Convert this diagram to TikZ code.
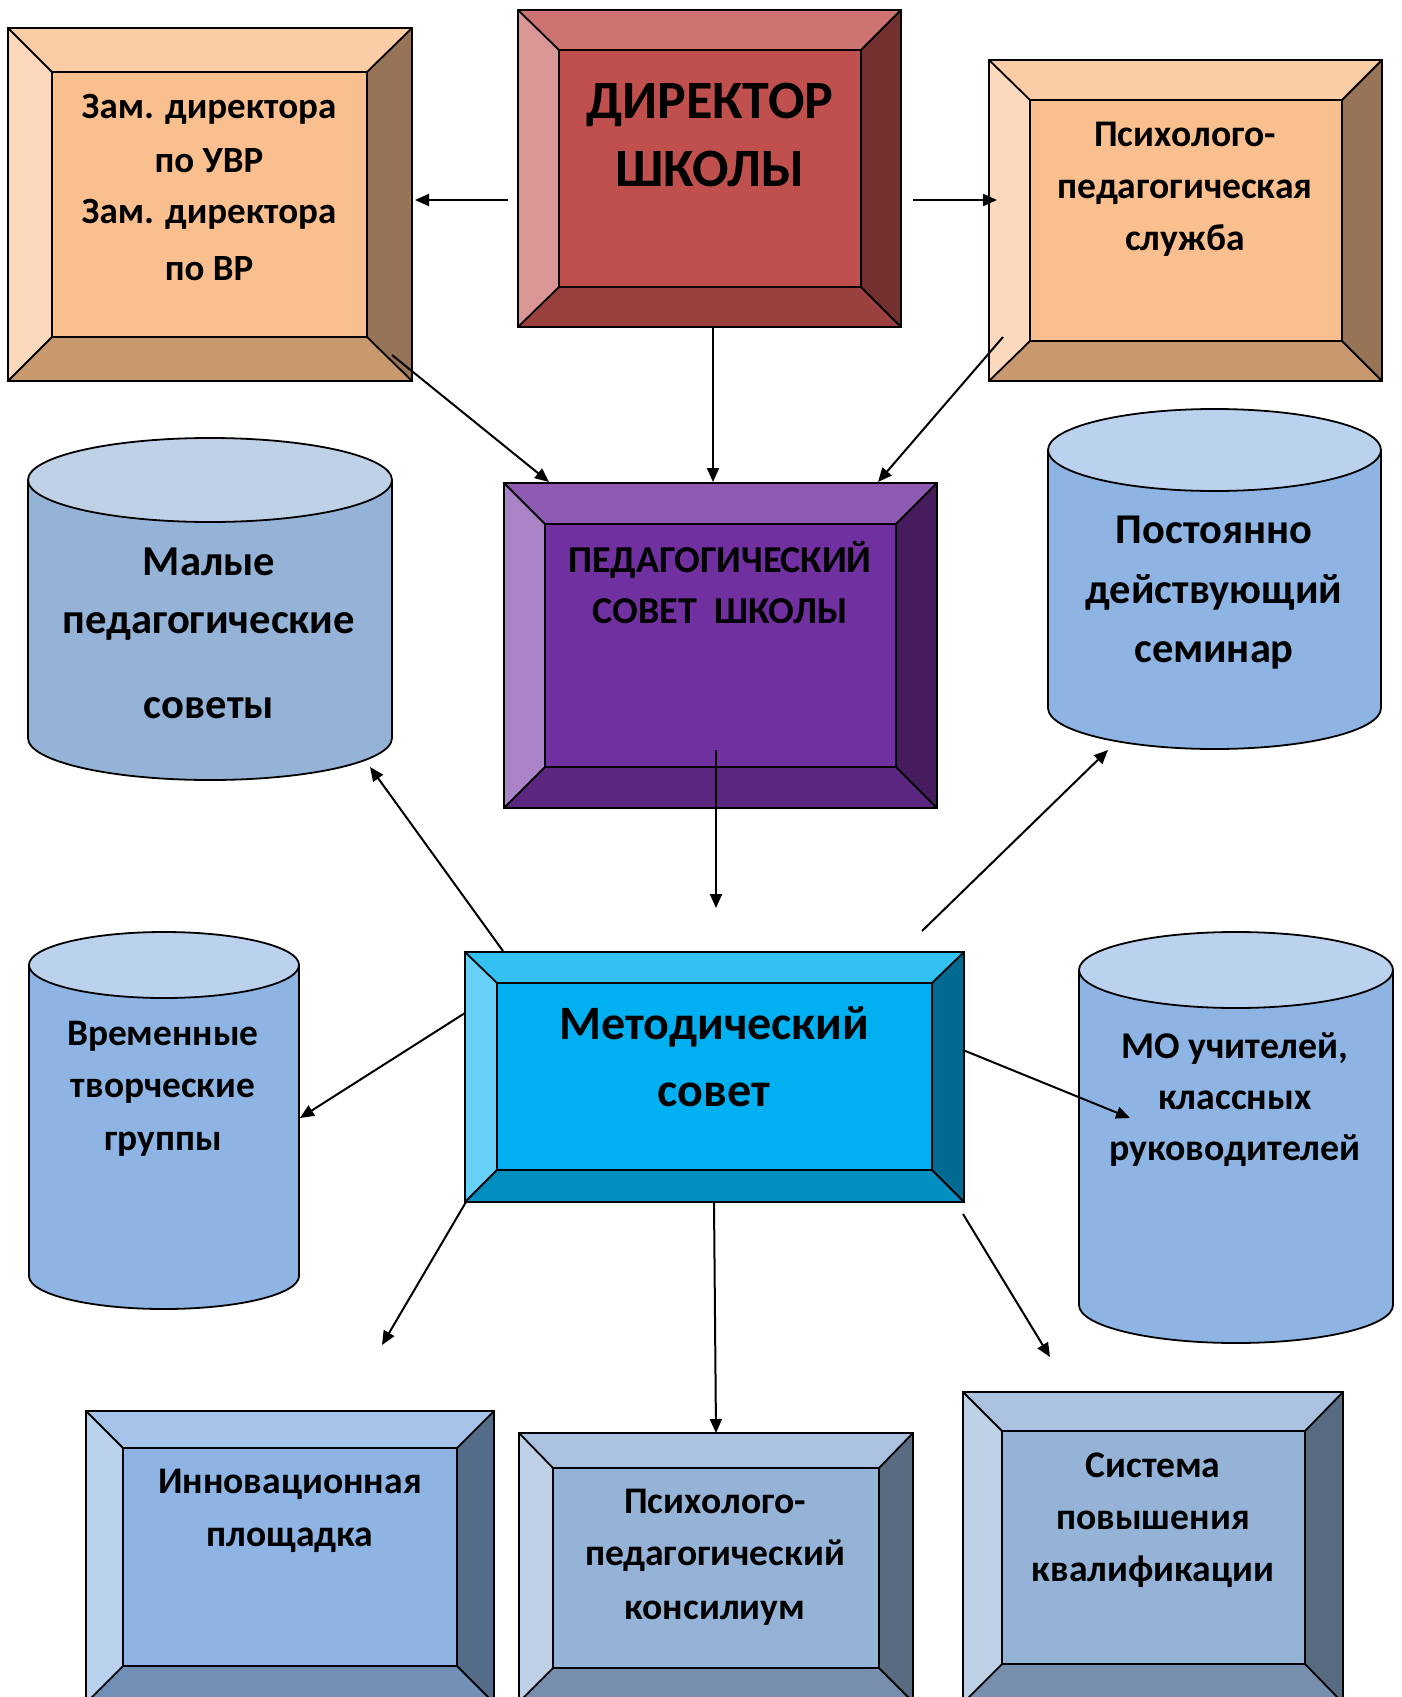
\documentclass[tikz,border=0pt]{standalone}
\usepackage{fontspec}
\setmainfont{Carlito}
\usetikzlibrary{arrows.meta}
% orange
\definecolor{oraC}{HTML}{F9BF8F}\definecolor{oraT}{HTML}{FBCDA6}\definecolor{oraL}{HTML}{FCD9BC}
\definecolor{oraB}{HTML}{C8986F}\definecolor{oraR}{HTML}{977357}
% red
\definecolor{redC}{HTML}{C0504D}\definecolor{redT}{HTML}{CD7371}\definecolor{redL}{HTML}{D99694}
\definecolor{redB}{HTML}{9A403E}\definecolor{redR}{HTML}{73302E}
% purple
\definecolor{purC}{HTML}{7030A0}\definecolor{purT}{HTML}{8D59B3}\definecolor{purL}{HTML}{A983C6}
\definecolor{purB}{HTML}{5A267F}\definecolor{purR}{HTML}{461C5E}
% cyan
\definecolor{cyaC}{HTML}{00B0F0}\definecolor{cyaT}{HTML}{33C0F3}\definecolor{cyaL}{HTML}{66D0F6}
\definecolor{cyaB}{HTML}{008DC0}\definecolor{cyaR}{HTML}{006A90}
% blue (bottom left)
\definecolor{bluC}{HTML}{8EB4E3}\definecolor{bluT}{HTML}{A5C3E9}\definecolor{bluL}{HTML}{BBD2EE}
\definecolor{bluB}{HTML}{7290B6}\definecolor{bluR}{HTML}{556C88}
% grey-blue
\definecolor{gbuC}{HTML}{95B3D7}\definecolor{gbuT}{HTML}{AAC2DF}\definecolor{gbuL}{HTML}{BFD1E7}
\definecolor{gbuB}{HTML}{778FAC}\definecolor{gbuR}{HTML}{596B81}
% cylinders
\definecolor{cylA}{HTML}{95B3D7}\definecolor{cylAt}{HTML}{BFD1E7}
\definecolor{cylB}{HTML}{8EB4E3}\definecolor{cylBt}{HTML}{BBD2EE}

\tikzset{
  edge/.style={draw=black, line width=0.9pt, line join=miter},
  arr/.style={draw=black, line width=1pt, -{Triangle[length=7pt,width=6pt]}},
  txt/.style={anchor=base, inner sep=0pt, font=\bfseries},
}
\newcommand\bevel[9]{%
  \fill[#1T] (#2,#3) -- (#4,#3) -- (#8,#7) -- (#6,#7) -- cycle;
  \fill[#1L] (#2,#3) -- (#6,#7) -- (#6,#9) -- (#2,#5) -- cycle;
  \fill[#1B] (#2,#5) -- (#6,#9) -- (#8,#9) -- (#4,#5) -- cycle;
  \fill[#1R] (#4,#3) -- (#8,#7) -- (#8,#9) -- (#4,#5) -- cycle;
  \fill[#1C] (#6,#7) rectangle (#8,#9);
  \draw[edge] (#2,#3) rectangle (#4,#5) (#6,#7) rectangle (#8,#9)
     (#2,#3) -- (#6,#7) (#4,#3) -- (#8,#7) (#2,#5) -- (#6,#9) (#4,#5) -- (#8,#9);
}
% #1 body, #2 top, #3 x1, #4 x2, #5 cx, #6 cy top, #7 cy bottom, #8 rx(pt), #9 ry(pt)
\newcommand\cyl[9]{%
  \fill[#1] (#3,#6) -- (#3,#7) arc[start angle=180,end angle=360,x radius=#8pt,y radius=#9pt] -- (#4,#6) -- cycle;
  \fill[#2] (#5,#6) ellipse[x radius=#8pt,y radius=#9pt];
  \draw[edge] (#3,#6) -- (#3,#7) arc[start angle=180,end angle=360,x radius=#8pt,y radius=#9pt] -- (#4,#6);
  \draw[edge] (#5,#6) ellipse[x radius=#8pt,y radius=#9pt];
}
\newcommand\fs[2]{\fontsize{#1}{#2}\selectfont}

\begin{document}
\begin{tikzpicture}[x=0.5pt,y=-0.5pt]
\useasboundingbox (0,0) rectangle (1402,1697);
\clip (0,0) rectangle (1402,1697);
\fill[white] (0,0) rectangle (1402,1697);

% ---------- boxes ----------
\bevel{ora}{8}{28}{412}{381}{52}{72}{367}{337}
\node[minimum width=202pt,minimum height=176.5pt,inner sep=0] (zam) at (210,204.5) {};
\bevel{red}{518}{10}{901}{327}{559}{50}{861}{287}
\node[minimum width=191.5pt,minimum height=158.5pt,inner sep=0] (dir) at (709.5,168.5) {};
\bevel{ora}{989}{60}{1382}{381}{1030}{100}{1342}{341}
\node[minimum width=196.5pt,minimum height=160.5pt,inner sep=0] (pps) at (1185.5,220.5) {};
\bevel{pur}{504}{483}{937}{808}{545}{524}{896}{767}
\node[minimum width=216.5pt,minimum height=162.5pt,inner sep=0] (ped) at (720.5,645.5) {};
\bevel{cya}{465}{952}{964}{1202}{497}{983}{932}{1170}
\node[minimum width=249.5pt,minimum height=125pt,inner sep=0] (met) at (714.5,1077) {};
\bevel{blu}{86}{1411}{494}{1703}{123}{1448}{457}{1666}
\node[minimum width=204pt,minimum height=146pt,inner sep=0] (inn) at (290,1557) {};
\bevel{gbu}{519}{1433}{913}{1702}{553}{1468}{879}{1668}
\node[minimum width=197pt,minimum height=134.5pt,inner sep=0] (ppk) at (716,1567.5) {};
\bevel{gbu}{963}{1392}{1343}{1703}{1002}{1431}{1305}{1664}
\node[minimum width=190pt,minimum height=155.5pt,inner sep=0] (spk) at (1153,1547.5) {};

% ---------- cylinders ----------
\cyl{cylA}{cylAt}{28}{392}{210}{480}{738}{91}{21}
\node[minimum width=182pt,minimum height=171pt,inner sep=0] (mps) at (210,609) {};
\cyl{cylB}{cylBt}{1048}{1381}{1214.5}{450}{708}{83.25}{20.5}
\node[minimum width=166.5pt,minimum height=170pt,inner sep=0] (pds) at (1214.5,579) {};
\cyl{cylB}{cylBt}{29}{299}{164}{965}{1276}{67.5}{16.5}
\node[minimum width=135pt,minimum height=188.5pt,inner sep=0] (vtg) at (164,1120.5) {};
\cyl{cylB}{cylBt}{1079}{1393}{1236}{970}{1305}{78.5}{19}
\node[minimum width=157pt,minimum height=186.5pt,inner sep=0] (mou) at (1236,1137.5) {};

% ---------- texts ----------
\node[txt,font=\bfseries\fs{18.5pt}{20pt}] (zam1) at (209,118) {Зам. директора};
\node[txt,font=\bfseries\fs{18.5pt}{20pt}] (zam2) at (209,172) {по УВР};
\node[txt,font=\bfseries\fs{18.5pt}{20pt}] (zam3) at (209,223) {Зам. директора};
\node[txt,font=\bfseries\fs{18.5pt}{20pt}] (zam4) at (209,280) {по ВР};

\node[txt,font=\bfseries\fs{27pt}{30pt}] (dir1) at (710,118) {ДИРЕКТОР};
\node[txt,font=\bfseries\fs{27pt}{30pt}] (dir2) at (710,186) {ШКОЛЫ};

\node[txt,font=\bfseries\fs{18.8pt}{20pt}] (pps1) at (1185,146) {Психолого-};
\node[txt,font=\bfseries\fs{18.8pt}{20pt}] (pps2) at (1185,198) {педагогическая};
\node[txt,font=\bfseries\fs{18.8pt}{20pt}] (pps3) at (1185,250) {служба};

\node[txt,font=\bfseries\fs{19pt}{22pt}] (ped1) at (720,572) {ПЕДАГОГИЧЕСКИЙ};
\node[txt,font=\bfseries\fs{19pt}{22pt}] (ped2) at (720,623) {СОВЕТ\ \ ШКОЛЫ};

\node[txt,font=\bfseries\fs{24pt}{26pt}] (met1) at (714,1039) {Методический};
\node[txt,font=\bfseries\fs{24pt}{26pt}] (met2) at (714,1106) {совет};

\node[txt,font=\bfseries\fs{21.3pt}{24pt}] (mps1) at (209,575) {Малые};
\node[txt,font=\bfseries\fs{21.3pt}{24pt}] (mps2) at (209,633) {педагогические};
\node[txt,font=\bfseries\fs{21.3pt}{24pt}] (mps3) at (209,718) {советы};

\node[txt,font=\bfseries\fs{21.2pt}{24pt}] (pds1) at (1214,543) {Постоянно};
\node[txt,font=\bfseries\fs{21.2pt}{24pt}] (pds2) at (1214,603) {действующий};
\node[txt,font=\bfseries\fs{21.2pt}{24pt}] (pds3) at (1214,662) {семинар};

\node[txt,font=\bfseries\fs{18.7pt}{20pt}] (vtg1) at (163,1045) {Временные};
\node[txt,font=\bfseries\fs{18.7pt}{20pt}] (vtg2) at (163,1097) {творческие};
\node[txt,font=\bfseries\fs{18.7pt}{20pt}] (vtg3) at (163,1150) {группы};

\node[txt,font=\bfseries\fs{18.9pt}{20pt}] (mou1) at (1235,1058) {МО учителей,};
\node[txt,font=\bfseries\fs{18.9pt}{20pt}] (mou2) at (1235,1109) {классных};
\node[txt,font=\bfseries\fs{18.9pt}{20pt}] (mou3) at (1235,1160) {руководителей};

\node[txt,font=\bfseries\fs{18.8pt}{20pt}] (inn1) at (290,1493) {Инновационная};
\node[txt,font=\bfseries\fs{18.8pt}{20pt}] (inn2) at (290,1546) {площадка};

\node[txt,font=\bfseries\fs{18.8pt}{20pt}] (ppk1) at (715,1513) {Психолого-};
\node[txt,font=\bfseries\fs{18.8pt}{20pt}] (ppk2) at (715,1565) {педагогический};
\node[txt,font=\bfseries\fs{18.8pt}{20pt}] (ppk3) at (715,1619) {консилиум};

\node[txt,font=\bfseries\fs{18.8pt}{20pt}] (spk1) at (1153,1477) {Система};
\node[txt,font=\bfseries\fs{18.8pt}{20pt}] (spk2) at (1153,1529) {повышения};
\node[txt,font=\bfseries\fs{18.8pt}{20pt}] (spk3) at (1153,1581) {квалификации};

% ---------- connector end points ----------
\coordinate (a1s) at (508,200);  \coordinate (a1e) at (415,200);
\coordinate (a2s) at (913,200);  \coordinate (a2e) at (997,200);
\coordinate (a3s) at (713,327);  \coordinate (a3e) at (713,482);
\coordinate (a4s) at (392,355);  \coordinate (a4e) at (549,482);
\coordinate (a5s) at (1003,337); \coordinate (a5e) at (878,482);
\coordinate (a6s) at (716,750);  \coordinate (a6e) at (716,908);
\coordinate (a7s) at (503,951);  \coordinate (a7e) at (370,767);
\coordinate (a8s) at (922,931);  \coordinate (a8e) at (1108,750);
\coordinate (a9s) at (465,1013); \coordinate (a9e) at (300,1118);
\coordinate (a10s) at (963,1050); \coordinate (a10e) at (1130,1118);
\coordinate (a11s) at (466,1202); \coordinate (a11e) at (382,1345);
\coordinate (a12s) at (714,1202); \coordinate (a12e) at (716,1433);
\coordinate (a13s) at (963,1214); \coordinate (a13e) at (1050,1357);

\foreach \i in {1,...,13} {\draw[arr] (a\i s) -- (a\i e);}
\end{tikzpicture}
\end{document}
